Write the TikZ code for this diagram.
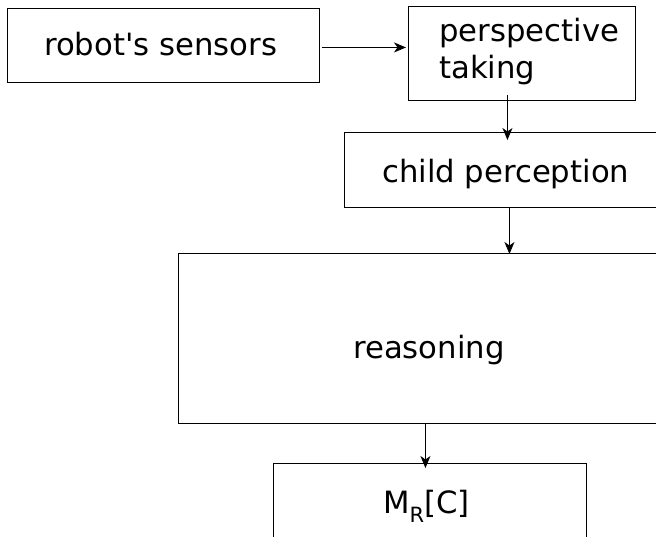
\documentclass[tikz,border=0pt]{standalone}
\usepackage{fontspec}
\setmainfont{DejaVu Sans}
\usetikzlibrary{arrows.meta,calc}
\begin{document}
\begin{tikzpicture}[x=1pt,y=-1pt,
  box/.style={draw=black,line width=0.9pt,rectangle,inner sep=0pt,anchor=north west},
  lbl/.style={inner sep=0pt,anchor=base west,font=\fontsize{30.7}{37}\selectfont},
  arr/.style={draw=black,line width=0.9pt,-{Stealth[length=12pt,width=10pt,inset=3.5pt]}}]
\useasboundingbox (0,0) rectangle (656,536);
% boxes (some run past the right and bottom edges of the page)
\node[box,minimum width=312pt,minimum height=74pt]  (robot)  at (7,8) {};
\node[box,minimum width=227pt,minimum height=94pt]  (persp)  at (408,6) {};
\node[box,minimum width=336pt,minimum height=75pt]  (child)  at (344,132) {};
\node[box,minimum width=512pt,minimum height=170pt] (reason) at (178,253) {};
\node[box,minimum width=313pt,minimum height=100pt] (mrc)    at (273,463) {};
% labels
\node[lbl] (trobot)  at (44,55)  {robot\textquotesingle s sensors};
\node[lbl] (tpersp1) at (439,41) {perspective};
\node[lbl] (tpersp2) at (439,78) {taking};
\node[lbl] (tchild)  at (382,182) {child perception};
\node[lbl] (treason) at (353,358) {reasoning};
\node[lbl] (tmrc)    at (383,513) {M\raisebox{-0.32em}{\fontsize{21}{21}\selectfont R}[C]};
% connectors
\draw[arr] ($(robot.east)+(2,2)$) -- ($(persp.west)+(-2,-6)$);
\draw[arr] ($(persp.south)+(-14.5,-6)$) -- ($(child.north)+(-5,8)$);
\draw[arr] ($(child.south)+(-3,0)$) -- ($(reason.north)+(75,1)$);
\draw[arr] ($(reason.south)+(-9,0)$) -- ($(mrc.north)+(-4.5,5)$);
\end{tikzpicture}
\end{document}
